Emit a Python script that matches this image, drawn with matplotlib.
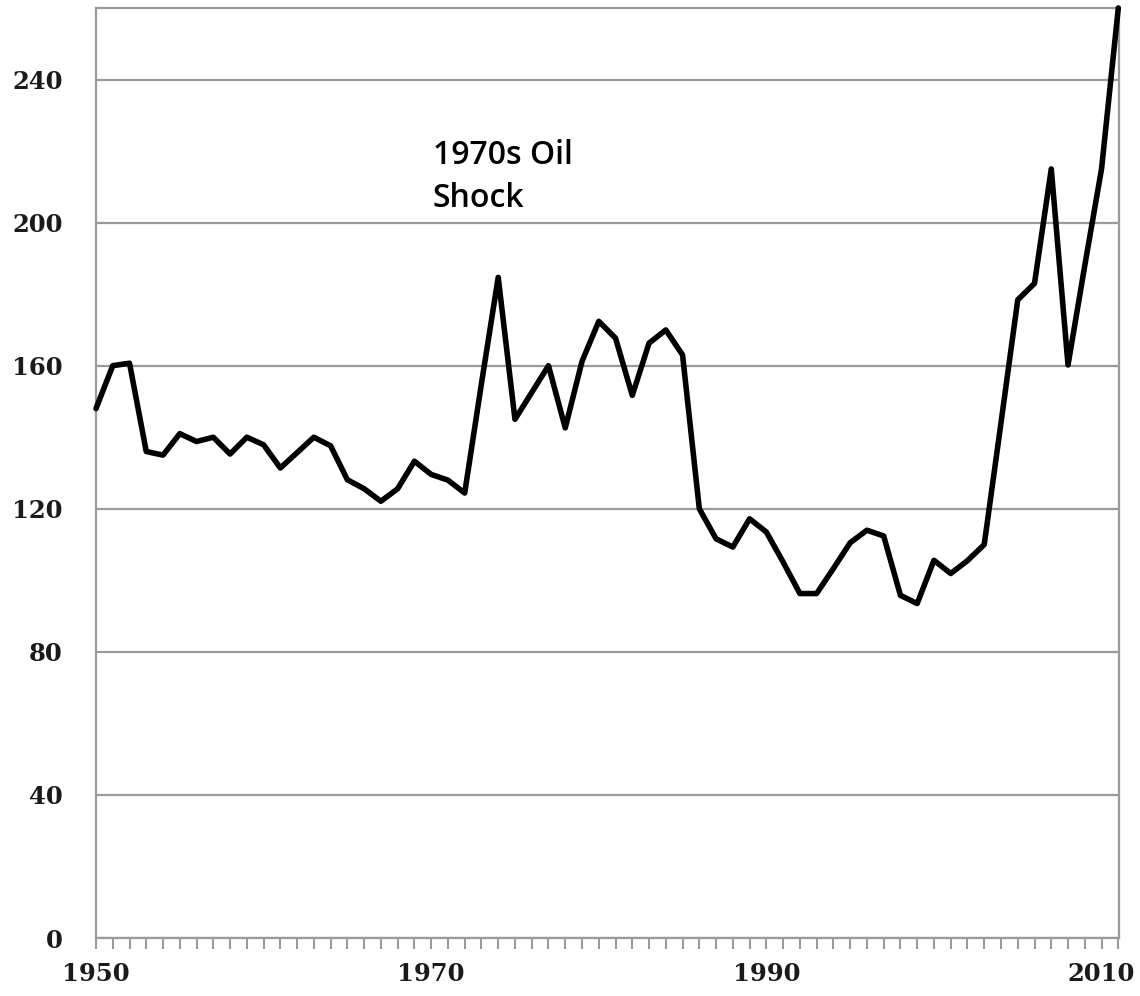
import numpy as np
import matplotlib
matplotlib.use("Agg")
import matplotlib.pyplot as plt
from matplotlib.ticker import MultipleLocator, FixedLocator

years = np.arange(1950, 2012)
values = [148, 160, 160.7, 136, 135, 141, 138.8, 140, 135.3, 140,
          137.9, 131.4, 135.7, 140, 137.6, 128.1, 125.6, 122.1, 125.6, 133.3,
          129.6, 128, 124.4, 155, 184.7, 145, 152.5, 160, 142.6, 161.2,
          172.4, 167.7, 151.7, 166.3, 170, 163, 120, 111.6, 109.3, 117.2,
          113.5, 105.1, 96.3, 96.3, 103.3, 110.5, 114, 112.4, 95.8, 93.5,
          105.6, 101.9, 105.5, 110, 144, 178.4, 183, 215, 160.2, 188,
          215, 260]
xlabels = [1950, 1970, 1990, 2010]
yticks = [0, 40, 80, 120, 160, 200, 240]
note = "1970s Oil\nShock"

grey = "#9a9a9a"

fig = plt.figure(figsize=(11.4, 9.96), dpi=100)
ax = fig.add_axes([0.0842, 0.0582, 0.8975, 0.9338])

ax.plot(years, values, color="black", lw=4, solid_joinstyle="round",
        solid_capstyle="round", clip_on=False, zorder=3)

ax.set_xlim(1950, 2011.05)
ax.set_ylim(0, 260)
ax.set_yticks(yticks)
ax.yaxis.grid(True, color=grey, lw=1.6)
ax.set_axisbelow(True)

ax.xaxis.set_major_locator(FixedLocator(xlabels))
ax.xaxis.set_minor_locator(MultipleLocator(1))
ax.tick_params(axis="x", which="both", direction="out", length=8, width=1.5,
               color=grey, pad=9)
ax.tick_params(axis="y", length=0, pad=24)

for lab in ax.get_xticklabels() + ax.get_yticklabels():
    lab.set_fontfamily("DejaVu Serif")
    lab.set_fontweight("bold")
    lab.set_fontsize(17.5)
    lab.set_color("#1a1a1a")

for s in ax.spines.values():
    s.set_color(grey)
    s.set_linewidth(1.6)

ax.text(1970.1, 223.5, note, fontfamily="Open Sans", fontweight="semibold",
        fontsize=23, va="top", ha="left", linespacing=1.4, color="black")

fig.savefig("out.png", dpi=100)
